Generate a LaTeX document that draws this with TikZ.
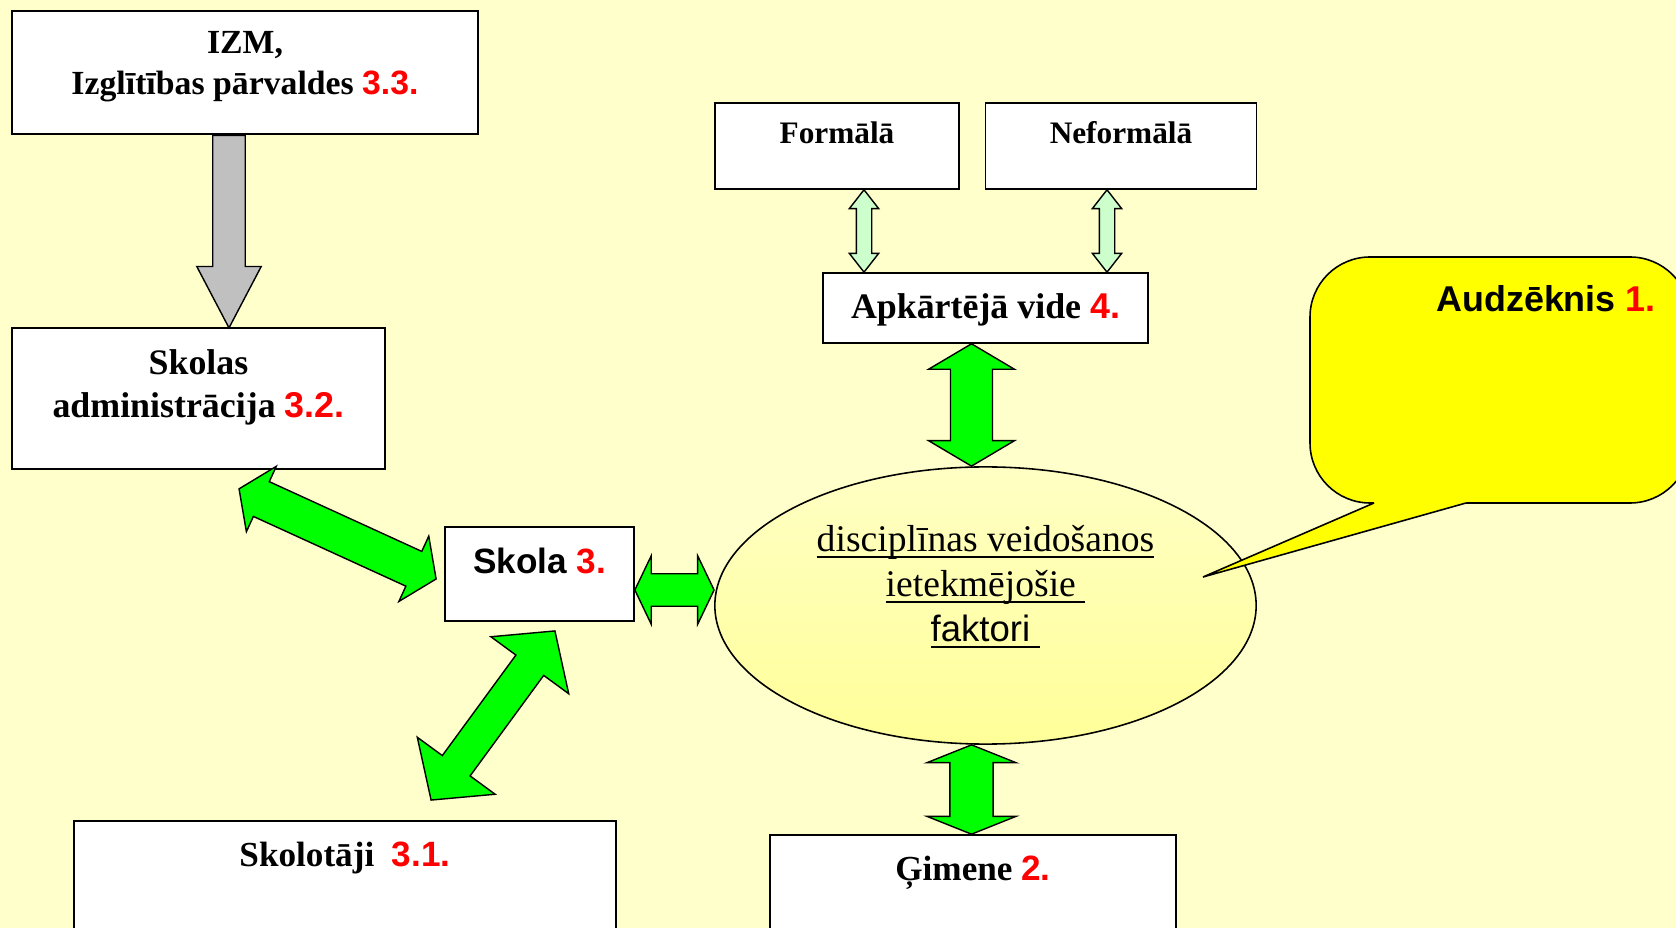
\documentclass[tikz,border=0pt]{standalone}
\usepackage{fontspec}
\setmainfont{Liberation Serif}
\setsansfont{Liberation Sans}
\usetikzlibrary{calc}
\usetikzlibrary{shapes.geometric}
\usetikzlibrary{shapes.arrows}

\definecolor{bgyellow}{HTML}{FFFFCC}
\definecolor{elltop}{HTML}{FFFFC4}
\definecolor{ellbottom}{HTML}{FFFF99}
\definecolor{calloutyellow}{HTML}{FFFF00}
\definecolor{arrowgreen}{HTML}{00FF00}
\definecolor{palegreen}{HTML}{CCFFCC}
\definecolor{arrowgray}{HTML}{C0C0C0}
\definecolor{numred}{HTML}{FF0000}

\newcommand{\nrred}[1]{{\sffamily\bfseries\color{numred}#1}}
\newcommand{\ulline}[1]{\setbox0\hbox{#1}\rlap{\rule[-1.8pt]{\wd0}{0.5pt}}\box0}

\tikzset{
  box/.style={draw, fill=white, line width=0.45pt, inner sep=0pt},
  boxtext/.style={anchor=base, align=center},
  dblarrow/.style={double arrow, draw, line width=0.4pt, inner xsep=0pt},
}

\begin{document}
\begin{tikzpicture}[x=0.01cm, y=-0.01cm]
                    \useasboundingbox (0,0) rectangle (1676,928);
                    \clip (0,0) rectangle (1676,928);
                    \fill[bgyellow] (0,0) rectangle (1676,928);

                    \node[box, minimum width=4.66cm, minimum height=1.23cm] (IZM) at (245,72.5) {};
                    \node[box, minimum width=3.73cm, minimum height=1.41cm] (ADM) at (198.5,398.5) {};
                    \node[box, minimum width=2.44cm, minimum height=0.86cm] (FOR) at (837,146) {};
                    \node[box, minimum width=2.71cm, minimum height=0.86cm] (NEF) at (1121,146) {};
                    \node[box, minimum width=3.25cm, minimum height=0.70cm] (VID) at (985.5,308) {};
                    \node[box, minimum width=1.89cm, minimum height=0.94cm] (SK) at (539.5,574) {};
                    \node[box, minimum width=5.42cm, minimum height=1.39cm] (SKL) at (345,890.5) {};
                    \node[box, minimum width=4.06cm, minimum height=1.25cm] (GIM) at (973,897.5) {};

                    \node[ellipse, draw, line width=0.45pt, inner sep=0pt, minimum width=5.41cm, minimum height=2.77cm,
                          top color=elltop, bottom color=ellbottom] (ELL) at (985.5,605.5) {};

                    \coordinate (A1) at ($(IZM.south)+(-16,0)$);
                    \coordinate (A2) at ($(ADM.north)+(30.5,0)$);
                    \path let \p1=($(A2)-(A1)$), \n1={veclen(\x1,\y1)}, \n2={atan2(\y1,\x1)} in
                        node[single arrow, draw, line width=0.4pt, fill=arrowgray, inner xsep=0pt, inner ysep=0.155cm,
                             single arrow head extend=0.16cm, single arrow tip angle=55.4,
                             minimum height=\n1, rotate=\n2, anchor=tail] (ARR1) at (A1) {};

                    \coordinate (B1) at ($(FOR.south)+(27,0)$);
                    \coordinate (B2) at (B1 |- VID.north);
                    \path let \p1=($(B2)-(B1)$), \n1={veclen(\x1,\y1)}, \n2={atan2(\y1,\x1)} in
                        node[dblarrow, fill=palegreen, inner ysep=0.07cm, double arrow head extend=0.07cm,
                             double arrow tip angle=75.9, minimum height=\n1, rotate=\n2] (ARR2) at ($(B1)!.5!(B2)$) {};

                    \coordinate (C1) at ($(NEF.south)+(-14,0)$);
                    \coordinate (C2) at (C1 |- VID.north);
                    \path let \p1=($(C2)-(C1)$), \n1={veclen(\x1,\y1)}, \n2={atan2(\y1,\x1)} in
                        node[dblarrow, fill=palegreen, inner ysep=0.07cm, double arrow head extend=0.07cm,
                             double arrow tip angle=75.9, minimum height=\n1, rotate=\n2] (ARR3) at ($(C1)!.5!(C2)$) {};

                    \coordinate (D1) at ($(VID.south)+(-14,0)$);
                    \coordinate (D2) at (D1 |- ELL.north);
                    \path let \p1=($(D2)-(D1)$), \n1={veclen(\x1,\y1)}, \n2={atan2(\y1,\x1)} in
                        node[dblarrow, fill=arrowgreen, inner ysep=0.203cm, double arrow head extend=0.219cm,
                             double arrow tip angle=118.7, minimum height=\n1, rotate=\n2] (ARR4) at ($(D1)!.5!(D2)$) {};

                    \coordinate (E1) at (D1 |- ELL.south);
                    \coordinate (E2) at (D1 |- GIM.north);
                    \path let \p1=($(E2)-(E1)$), \n1={veclen(\x1,\y1)}, \n2={atan2(\y1,\x1)} in
                        node[dblarrow, fill=arrowgreen, inner ysep=0.2085cm, double arrow head extend=0.23cm,
                             double arrow tip angle=136.4, minimum height=\n1, rotate=\n2] (ARR5) at ($(E1)!.5!(E2)$) {};

                    \coordinate (F1) at ($(SK.east)+(0,16)$);
                    \coordinate (F2) at (F1 -| ELL.west);
                    \path let \p1=($(F2)-(F1)$), \n1={veclen(\x1,\y1)}, \n2={atan2(\y1,\x1)} in
                        node[dblarrow, fill=arrowgreen, inner ysep=0.155cm, double arrow head extend=0.18cm,
                             double arrow tip angle=128.8, minimum height=\n1, rotate=\n2] (ARR6) at ($(F1)!.5!(F2)$) {};

                    \coordinate (G1) at ($(ADM.south)+(40.5,19)$);
                    \coordinate (G2) at ($(SK.west)+(-8,5)$);
                    \path let \p1=($(G2)-(G1)$), \n1={veclen(\x1,\y1)}, \n2={atan2(\y1,\x1)} in
                        node[dblarrow, fill=arrowgreen, inner ysep=0.184cm, double arrow head extend=0.168cm,
                             double arrow tip angle=111.4, minimum height=\n1, rotate=\n2] (ARR7) at ($(G1)!.5!(G2)$) {};

                    \coordinate (H1) at ($(SK.south)+(15.5,9)$);
                    \coordinate (H2) at ($(SKL.north)+(86,-20)$);
                    \path let \p1=($(H2)-(H1)$), \n1={veclen(\x1,\y1)}, \n2={atan2(\y1,\x1)} in
                        node[dblarrow, fill=arrowgreen, inner ysep=0.165cm, double arrow head extend=0.31cm,
                             double arrow tip angle=97.2, minimum height=\n1, rotate=\n2] (ARR8) at ($(H1)!.5!(H2)$) {};

                    \filldraw[fill=calloutyellow, line width=0.45pt, rounded corners=0.6cm] (1310,257) rectangle (1690,503);
                    \fill[calloutyellow] (1374,499) -- (1374,503) -- (1203,577) -- (1466,503) -- (1466,499) -- cycle;
                    \draw[line width=0.45pt] (1374,503) -- (1203,577) -- (1466,503);

                    \node[boxtext, font=\bfseries\fontsize{9.6}{11.9}\selectfont] (IZMt) at (245,95) {IZM,\\Izglītības pārvaldes \nrred{3.3.}};
                    \node[boxtext, font=\bfseries\fontsize{10.2}{12.3}\selectfont] (ADMt) at (198.5,417.3) {Skolas\\administrācija \nrred{3.2.}};
                    \node[boxtext, font=\bfseries\fontsize{8.9}{11}\selectfont] (FORt) at (837,143.3) {Formālā};
                    \node[boxtext, font=\bfseries\fontsize{8.9}{11}\selectfont] (NEFt) at (1121,143.3) {Neformālā};
                    \node[boxtext, font=\bfseries\fontsize{10.2}{12}\selectfont] (VIDt) at (985.5,318.3) {Apkārtējā vide \nrred{4.}};
                    \node[boxtext, font=\sffamily\bfseries\fontsize{10}{12}\selectfont] (SKt) at (539.5,573.3) {Skola \nrred{3.}};
                    \node[boxtext, font=\bfseries\fontsize{10}{12}\selectfont] (SKLt) at (345,866.7) {Skolotāji~ \nrred{3.1.}};
                    \node[boxtext, font=\bfseries\fontsize{10}{12}\selectfont] (GIMt) at (973,880.7) {Ģimene \nrred{2.}};
                    \node[boxtext, font=\fontsize{10.7}{12.8}\selectfont] (ELLt) at (985.5,641.7)
                        {\ulline{disciplīnas veidošanos}\\\ulline{ietekmējošie\kern.25em}\\{\sffamily\fontsize{10.4}{12.8}\selectfont\ulline{faktori\kern.28em}}};
                    \node[boxtext, font=\sffamily\bfseries\fontsize{10.2}{12}\selectfont] (AUD) at (1546,311.7) {Audzēknis \nrred{1.}};
                \end{tikzpicture}
\end{document}
